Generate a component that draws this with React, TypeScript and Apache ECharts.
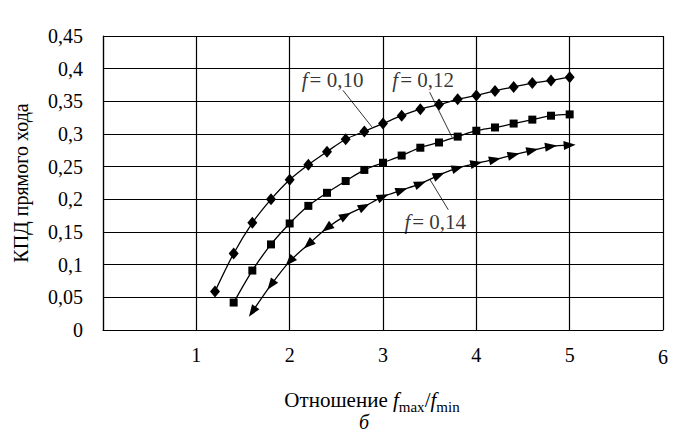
import React, { useEffect, useRef } from "react";
import * as echarts from "echarts";

// ---- data ----
const f10X = [1.2, 1.4, 1.6, 1.8, 2.0, 2.2, 2.4, 2.6, 2.8, 3.0, 3.2, 3.4, 3.6, 3.8, 4.0, 4.2, 4.4, 4.6, 4.8, 5.0];
const f10Y = [0.059, 0.117, 0.164, 0.2, 0.23, 0.253, 0.273, 0.292, 0.304, 0.316, 0.328, 0.338, 0.345, 0.353, 0.359, 0.366, 0.372, 0.378, 0.382, 0.387];

const f12X = [1.4, 1.6, 1.8, 2.0, 2.2, 2.4, 2.6, 2.8, 3.0, 3.2, 3.4, 3.6, 3.8, 4.0, 4.2, 4.4, 4.6, 4.8, 5.0];
const f12Y = [0.042, 0.091, 0.131, 0.163, 0.19, 0.21, 0.228, 0.245, 0.256, 0.267, 0.279, 0.287, 0.296, 0.305, 0.31, 0.316, 0.322, 0.328, 0.33];

const f14X = [1.6, 1.8, 2.0, 2.2, 2.4, 2.6, 2.8, 3.0, 3.2, 3.4, 3.6, 3.8, 4.0, 4.2, 4.4, 4.6, 4.8, 5.0];
const f14Y = [0.028, 0.069, 0.105, 0.131, 0.156, 0.175, 0.189, 0.204, 0.214, 0.224, 0.237, 0.248, 0.255, 0.261, 0.268, 0.275, 0.281, 0.283];

const yTickLabels = ["0", "0,05", "0,1", "0,15", "0,2", "0,25", "0,3", "0,35", "0,4", "0,45"];
const xTickLabels = ["", "1", "2", "3", "4", "5", "{low|6}"];

// annotation labels [x, y, text] in data coords
const noteLabels: [number, number, string][] = [
  [2.46, 0.383, "0,10"],
  [3.43, 0.383, "0,12"],
  [3.56, 0.165, "0,14"],
];
// leader lines [x1, y1, x2, y2] in data coords
const noteLeaders: [number, number, number, number][] = [
  [2.57, 0.367, 2.88, 0.311],
  [3.5, 0.364, 3.74, 0.295],
  [3.5, 0.231, 3.7, 0.184],
];
const reversedArrowMaxX = 2.4;

const FONT = "Liberation Serif";

export default function App() {
  const ref = useRef<HTMLDivElement>(null);

  useEffect(() => {
    if (!ref.current) return;
    const chart = echarts.init(ref.current, undefined, { renderer: "svg" });

    const lineSeries = (id: string, xs: number[], ys: number[], symbol: string, size: any) => ({
      id,
      type: "line",
      smooth: 0.3,
      data: xs.map((x, i) => [x, ys[i]]),
      symbol,
      symbolSize: size,
      showSymbol: true,
      lineStyle: { color: "#000", width: 1.3 },
      itemStyle: { color: "#000", borderWidth: 0 },
      z: 3,
    });

    const option: any = {
      animation: false,
      backgroundColor: "#fff",
      textStyle: { fontFamily: FONT },
      grid: { left: 103, right: 14, top: 36, bottom: 105, containLabel: false },
      xAxis: {
        type: "value",
        min: 0,
        max: 6,
        interval: 1,
        name: "{r|Отношение }{i|f}{s|max}{r|/}{i|f}{s|min}",
        nameLocation: "middle",
        nameGap: 56,
        nameTextStyle: {
          fontFamily: FONT,
          padding: [0, 22, 0, 0],
          rich: {
            r: { fontFamily: FONT, fontSize: 21, color: "#000", lineHeight: 28 },
            i: { fontFamily: FONT, fontSize: 21, fontStyle: "italic", color: "#000", lineHeight: 28 },
            s: { fontFamily: FONT, fontSize: 15, color: "#000", lineHeight: 16, verticalAlign: "bottom" },
          },
        },
        axisLine: { show: true, lineStyle: { color: "#000", width: 1.2 } },
        axisTick: { show: false },
        splitLine: { show: true, lineStyle: { color: "#000", width: 1.2 } },
        axisLabel: {
          margin: 15,
          fontFamily: FONT,
          fontSize: 20,
          color: "#000",
          formatter: (v: number) => xTickLabels[Math.round(v)] ?? "",
          rich: {
            low: { fontFamily: FONT, fontSize: 20, color: "#000", padding: [2, 0, 0, 0] },
          },
        },
      },
      yAxis: {
        type: "value",
        min: 0,
        max: 0.45,
        interval: 0.05,
        name: "КПД прямого хода",
        nameLocation: "middle",
        nameGap: 72,
        nameRotate: 90,
        nameTextStyle: { fontFamily: FONT, fontSize: 20, color: "#000" },
        axisLine: { show: true, lineStyle: { color: "#000", width: 1.2 } },
        axisTick: { show: false },
        splitLine: { show: true, lineStyle: { color: "#000", width: 1.2 } },
        axisLabel: {
          margin: 20,
          fontFamily: FONT,
          fontSize: 20,
          color: "#000",
          formatter: (v: number) => yTickLabels[Math.round(v / 0.05)] ?? "",
        },
      },
      graphic: [
        {
          type: "text",
          left: 359,
          top: 412,
          style: { text: "б", fontFamily: FONT, fontStyle: "italic", fontSize: 20, fill: "#000" },
        },
      ],
      series: [
        lineSeries("f10", f10X, f10Y, "diamond", [10, 12]),
        lineSeries("f12", f12X, f12Y, "rect", 8),
        lineSeries("f14", f14X, f14Y, "triangle", [9, 12]),
        {
          id: "notes",
          type: "scatter",
          symbolSize: 0,
          data: noteLabels.map((n) => [n[0], n[1], n[2]]),
          itemStyle: { color: "transparent" },
          label: {
            show: true,
            position: "inside",
            formatter: (p: any) => `{i|f}{r|= ${p.data[2]}}`,
            rich: {
              i: { fontFamily: FONT, fontSize: 21, fontStyle: "italic", color: "#000", padding: [0, 2, 0, 0] },
              r: { fontFamily: FONT, fontSize: 21, color: "#000" },
            },
          },
          markLine: {
            silent: true,
            symbol: ["none", "none"],
            lineStyle: { color: "#000", width: 0.8, type: "solid" },
            label: { show: false },
            data: noteLeaders.map((l) => [{ coord: [l[0], l[1]] }, { coord: [l[2], l[3]] }]),
          },
          z: 5,
        },
      ],
    };

    chart.setOption(option);

    // orient triangle markers along the curve
    const pts = f14X.map((x, i) => chart.convertToPixel({ gridIndex: 0 }, [x, f14Y[i]]) as number[]);
    const rots = pts.map((_, i) => {
      const a = pts[Math.max(0, i - 1)];
      const b = pts[Math.min(pts.length - 1, i + 1)];
      let ang = (Math.atan2(-(b[1] - a[1]), b[0] - a[0]) * 180) / Math.PI;
      if (f14X[i] <= reversedArrowMaxX) ang += 180;
      return ang - 90;
    });
    chart.setOption({
      series: [
        {
          id: "f14",
          data: f14X.map((x, i) => ({ value: [x, f14Y[i]], symbolRotate: rots[i] })),
        },
      ],
    });

    return () => chart.dispose();
  }, []);

  return (
    <div
      ref={ref}
      style={{ position: "fixed", left: 0, top: 0, width: 677, height: 435, background: "#fff" }}
    />
  );
}
